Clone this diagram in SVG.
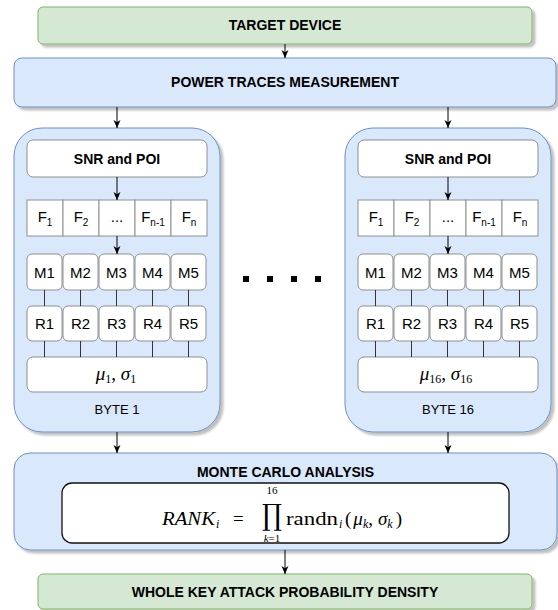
<svg xmlns="http://www.w3.org/2000/svg" width="558" height="610" viewBox="0 0 558 610">
  <style>
    .green { fill: #d5e8d4; stroke: #82b366; stroke-width: 1; }
    .blue { fill: #dae8fc; stroke: #6c8ebf; stroke-width: 1; }
    .cell { fill: #ffffff; stroke: #8f8f8f; stroke-width: 1; }
    .formula-box { fill: #ffffff; stroke: #111111; stroke-width: 1.3; }
    .hd { font-family: "Liberation Sans", Arial, sans-serif; font-weight: bold; font-size: 14px; text-anchor: middle; fill: #000; }
    .lb { font-family: "Liberation Sans", Arial, sans-serif; font-size: 15px; text-anchor: middle; fill: #000; }
    .cap { font-family: "Liberation Sans", Arial, sans-serif; font-size: 13px; text-anchor: middle; fill: #000; }
    .sub { font-size: 10px; }
    .mr { font-family: "Liberation Serif", "Times New Roman", serif; font-size: 19px; fill: #000; }
    .mi { font-family: "Liberation Serif", "Times New Roman", serif; font-style: italic; }
    .ms { font-size: 12px; }
    .lim { font-size: 11px; }
    .op { font-family: "DejaVu Serif", serif; fill: #000; }
    .edge { stroke: #000; stroke-width: 1; fill: none; marker-end: url(#arrow); }
    .tick { stroke: #333; stroke-width: 1; }
  </style>
  <defs>
    <marker id="arrow" viewBox="0 0 8 8" refX="8" refY="4" markerWidth="8" markerHeight="8" orient="auto" markerUnits="userSpaceOnUse">
      <path d="M0,0.5 L8,4 L0,7.5 L2.2,4 Z" fill="#000"/>
    </marker>
    <filter id="shadow" x="-5%" y="-5%" width="115%" height="125%">
      <feGaussianBlur in="SourceAlpha" stdDeviation="1"/>
      <feOffset dx="2.5" dy="3"/>
      <feComponentTransfer><feFuncA type="linear" slope="0.25"/></feComponentTransfer>
      <feMerge><feMergeNode/><feMergeNode in="SourceGraphic"/></feMerge>
    </filter>
  </defs>

  <!-- top stage -->
  <g id="target-device">
    <rect class="green" x="38" y="7" width="494" height="37" rx="5" filter="url(#shadow)"/>
    <text class="hd" x="285" y="30">TARGET DEVICE</text>
  </g>

  <g id="power-traces">
    <rect class="blue" x="14" y="58" width="542" height="49" rx="8" filter="url(#shadow)"/>
    <text class="hd" x="285" y="87">POWER TRACES MEASUREMENT</text>
  </g>

  <!-- per-byte pipeline: byte 1 -->
  <g id="byte-1">
    <rect class="blue" x="14" y="128" width="206" height="304" rx="28" filter="url(#shadow)"/>
    <g id="b1-snr">
      <rect class="cell" x="27" y="140" width="180" height="37" rx="6"/>
      <text class="hd" x="117" y="163.5">SNR and POI</text>
    </g>
    <g id="b1-features">
      <rect class="cell" x="27" y="200" width="36" height="36"/>
      <rect class="cell" x="63" y="200" width="36" height="36"/>
      <rect class="cell" x="99" y="200" width="36" height="36"/>
      <rect class="cell" x="135" y="200" width="36" height="36"/>
      <rect class="cell" x="171" y="200" width="36" height="36"/>
      <text class="lb" x="45" y="222">F<tspan class="sub" dy="4">1</tspan></text>
      <text class="lb" x="81" y="222">F<tspan class="sub" dy="4">2</tspan></text>
      <text class="lb" x="117" y="222" font-size="11">...</text>
      <text class="lb" x="153" y="222">F<tspan class="sub" dy="4">n-1</tspan></text>
      <text class="lb" x="189" y="222">F<tspan class="sub" dy="4">n</tspan></text>
    </g>
    <g id="b1-models">
      <rect class="cell" x="27" y="254" width="35" height="36" rx="5"/>
      <rect class="cell" x="63" y="254" width="35" height="36" rx="5"/>
      <rect class="cell" x="99" y="254" width="35" height="36" rx="5"/>
      <rect class="cell" x="135" y="254" width="35" height="36" rx="5"/>
      <rect class="cell" x="171" y="254" width="35" height="36" rx="5"/>
      <text class="lb" x="44.5" y="277.5">M1</text>
      <text class="lb" x="80.5" y="277.5">M2</text>
      <text class="lb" x="116.5" y="277.5">M3</text>
      <text class="lb" x="152.5" y="277.5">M4</text>
      <text class="lb" x="188.5" y="277.5">M5</text>
    </g>
    <g id="b1-results">
      <rect class="cell" x="27" y="306" width="35" height="35" rx="5"/>
      <rect class="cell" x="63" y="306" width="35" height="35" rx="5"/>
      <rect class="cell" x="99" y="306" width="35" height="35" rx="5"/>
      <rect class="cell" x="135" y="306" width="35" height="35" rx="5"/>
      <rect class="cell" x="171" y="306" width="35" height="35" rx="5"/>
      <text class="lb" x="44.5" y="329">R1</text>
      <text class="lb" x="80.5" y="329">R2</text>
      <text class="lb" x="116.5" y="329">R3</text>
      <text class="lb" x="152.5" y="329">R4</text>
      <text class="lb" x="188.5" y="329">R5</text>
    </g>
    <g id="b1-stats">
      <rect class="cell" x="27" y="357" width="180" height="35" rx="6"/>
      <text x="116" y="380" class="mr" font-size="17" text-anchor="middle"><tspan class="mi">μ</tspan><tspan class="ms" dy="3">1</tspan><tspan dy="-3">, </tspan><tspan class="mi">σ</tspan><tspan class="ms" dy="3">1</tspan></text>
    </g>
    <text class="cap" x="117" y="413.5">BYTE 1</text>
  </g>

  <!-- per-byte pipeline: byte 16 -->
  <g id="byte-16">
    <rect class="blue" x="345" y="128" width="206" height="304" rx="28" filter="url(#shadow)"/>
    <g id="b16-snr">
      <rect class="cell" x="358" y="140" width="180" height="37" rx="6"/>
      <text class="hd" x="448" y="163.5">SNR and POI</text>
    </g>
    <g id="b16-features">
      <rect class="cell" x="358" y="200" width="36" height="36"/>
      <rect class="cell" x="394" y="200" width="36" height="36"/>
      <rect class="cell" x="430" y="200" width="36" height="36"/>
      <rect class="cell" x="466" y="200" width="36" height="36"/>
      <rect class="cell" x="502" y="200" width="36" height="36"/>
      <text class="lb" x="376" y="222">F<tspan class="sub" dy="4">1</tspan></text>
      <text class="lb" x="412" y="222">F<tspan class="sub" dy="4">2</tspan></text>
      <text class="lb" x="448" y="222" font-size="11">...</text>
      <text class="lb" x="484" y="222">F<tspan class="sub" dy="4">n-1</tspan></text>
      <text class="lb" x="520" y="222">F<tspan class="sub" dy="4">n</tspan></text>
    </g>
    <g id="b16-models">
      <rect class="cell" x="358" y="254" width="35" height="36" rx="5"/>
      <rect class="cell" x="394" y="254" width="35" height="36" rx="5"/>
      <rect class="cell" x="430" y="254" width="35" height="36" rx="5"/>
      <rect class="cell" x="466" y="254" width="35" height="36" rx="5"/>
      <rect class="cell" x="502" y="254" width="35" height="36" rx="5"/>
      <text class="lb" x="375.5" y="277.5">M1</text>
      <text class="lb" x="411.5" y="277.5">M2</text>
      <text class="lb" x="447.5" y="277.5">M3</text>
      <text class="lb" x="483.5" y="277.5">M4</text>
      <text class="lb" x="519.5" y="277.5">M5</text>
    </g>
    <g id="b16-results">
      <rect class="cell" x="358" y="306" width="35" height="35" rx="5"/>
      <rect class="cell" x="394" y="306" width="35" height="35" rx="5"/>
      <rect class="cell" x="430" y="306" width="35" height="35" rx="5"/>
      <rect class="cell" x="466" y="306" width="35" height="35" rx="5"/>
      <rect class="cell" x="502" y="306" width="35" height="35" rx="5"/>
      <text class="lb" x="375.5" y="329">R1</text>
      <text class="lb" x="411.5" y="329">R2</text>
      <text class="lb" x="447.5" y="329">R3</text>
      <text class="lb" x="483.5" y="329">R4</text>
      <text class="lb" x="519.5" y="329">R5</text>
    </g>
    <g id="b16-stats">
      <rect class="cell" x="358" y="357" width="180" height="35" rx="6"/>
      <text x="446" y="380" class="mr" font-size="17" text-anchor="middle"><tspan class="mi">μ</tspan><tspan class="ms" dy="3">16</tspan><tspan dy="-3">, </tspan><tspan class="mi">σ</tspan><tspan class="ms" dy="3">16</tspan></text>
    </g>
    <text class="cap" x="448" y="413.5">BYTE 16</text>
  </g>

  <!-- ellipsis between the byte pipelines -->
  <g id="more-bytes">
    <line x1="243" y1="279" x2="321" y2="279" stroke="#000" stroke-width="6" stroke-dasharray="6 18"/>
  </g>

  <!-- aggregation stage -->
  <g id="monte-carlo">
    <rect class="blue" x="14" y="453" width="543" height="97" rx="16" filter="url(#shadow)"/>
    <text class="hd" x="285.5" y="477">MONTE CARLO ANALYSIS</text>
    <g id="rank-formula">
      <rect class="formula-box" x="62" y="483" width="447" height="60" rx="10"/>
      <text class="mr mi" x="162" y="525" textLength="53" lengthAdjust="spacingAndGlyphs">RANK</text>
      <text class="mr mi ms" x="216" y="528">i</text>
      <text class="mr" x="233" y="525">=</text>
      <text class="op" x="262" y="525" font-size="29" textLength="20" lengthAdjust="spacingAndGlyphs">∏</text>
      <text class="mr lim" x="272" y="494" text-anchor="middle">16</text>
      <text class="mr lim" x="272" y="542" text-anchor="middle"><tspan class="mi">k</tspan>=1</text>
      <text class="mr" x="286" y="525" textLength="52" lengthAdjust="spacingAndGlyphs">randn</text>
      <text class="mr mi ms" x="339" y="528">i</text>
      <text class="mr" x="345" y="525">(<tspan class="mi" dx="2">μ</tspan><tspan class="mi ms" dy="3">k</tspan><tspan dy="-3">,</tspan><tspan class="mi" dx="5">σ</tspan><tspan class="mi ms" dy="3">k</tspan><tspan dy="-3" dx="3">)</tspan></text>
    </g>
  </g>

  <g id="key-density">
    <rect class="green" x="38" y="574" width="494" height="35" rx="5" filter="url(#shadow)"/>
    <text class="hd" x="285" y="597">WHOLE KEY ATTACK PROBABILITY DENSITY</text>
  </g>

  <!-- connectors -->
  <g id="connectors">
    <line class="edge" x1="285" y1="44" x2="285" y2="58"/>
    <line class="edge" x1="117" y1="107" x2="117" y2="128"/>
    <line class="edge" x1="448" y1="107" x2="448" y2="128"/>
    <line class="edge" x1="117" y1="177" x2="117" y2="200"/>
    <line class="edge" x1="117" y1="236" x2="117" y2="254"/>
    <line class="edge" x1="448" y1="177" x2="448" y2="200"/>
    <line class="edge" x1="448" y1="236" x2="448" y2="254"/>
    <line class="edge" x1="117" y1="432" x2="117" y2="453"/>
    <line class="edge" x1="448" y1="432" x2="448" y2="453"/>
    <line class="edge" x1="285" y1="550" x2="285" y2="574"/>
    <!-- model/result/statistics links, byte 1 -->
    <g class="tick">
      <line x1="44.5" y1="290" x2="44.5" y2="306"/>
      <line x1="80.5" y1="290" x2="80.5" y2="306"/>
      <line x1="116.5" y1="290" x2="116.5" y2="306"/>
      <line x1="152.5" y1="290" x2="152.5" y2="306"/>
      <line x1="188.5" y1="290" x2="188.5" y2="306"/>
      <line x1="44.5" y1="341" x2="44.5" y2="357"/>
      <line x1="80.5" y1="341" x2="80.5" y2="357"/>
      <line x1="116.5" y1="341" x2="116.5" y2="357"/>
      <line x1="152.5" y1="341" x2="152.5" y2="357"/>
      <line x1="188.5" y1="341" x2="188.5" y2="357"/>
    </g>
    <!-- model/result/statistics links, byte 16 -->
    <g class="tick">
      <line x1="375.5" y1="290" x2="375.5" y2="306"/>
      <line x1="411.5" y1="290" x2="411.5" y2="306"/>
      <line x1="447.5" y1="290" x2="447.5" y2="306"/>
      <line x1="483.5" y1="290" x2="483.5" y2="306"/>
      <line x1="519.5" y1="290" x2="519.5" y2="306"/>
      <line x1="375.5" y1="341" x2="375.5" y2="357"/>
      <line x1="411.5" y1="341" x2="411.5" y2="357"/>
      <line x1="447.5" y1="341" x2="447.5" y2="357"/>
      <line x1="483.5" y1="341" x2="483.5" y2="357"/>
      <line x1="519.5" y1="341" x2="519.5" y2="357"/>
    </g>
  </g>
</svg>
